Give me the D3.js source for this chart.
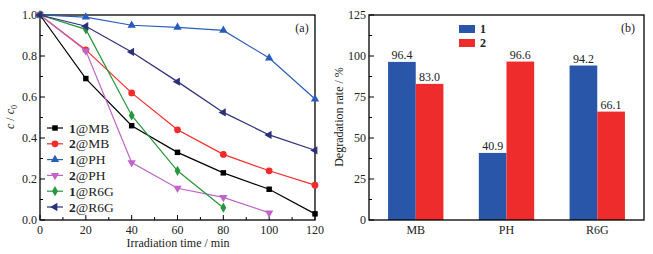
<!DOCTYPE html>
<meta charset="utf-8">
<script src="https://d3js.org/d3.v7.min.js"></script>
<style>
	body{margin:0;background:#fff;}
	text{font-family:'Liberation Serif','Times New Roman',serif;fill:#222;}
</style>
<div id="chart"></div>
<script>
	// panel (a) data
	var times = [0,20,40,60,80,100,120]
	var mb1 = [1.0,0.69,0.46,0.33,0.23,0.15,0.03]
	var mb2 = [1.0,0.83,0.62,0.44,0.32,0.24,0.17]
	var ph1 = [1.0,0.99,0.95,0.94,0.925,0.79,0.59]
	var ph2 = [1.0,0.825,0.28,0.155,0.11,0.035]
	var r6g1 = [1.0,0.93,0.51,0.24,0.06]
	var r6g2 = [1.0,0.945,0.82,0.675,0.525,0.415,0.34]
	var xTicks = [0,20,40,60,80,100,120]
	var yTicksA = [0,0.2,0.4,0.6,0.8,1.0]

	// panel (b) data
	var dyes = ["MB","PH","R6G"]
	var rate1 = [96.4,40.9,94.2]
	var rate2 = [83.0,96.6,66.1]
	var yTicksB = [0,25,50,75,100,125]

	var series = [
		{n:"1",dye:"MB",vals:mb1,color:"#000000",sym:d3.symbolSquare,rot:0,size:30},
		{n:"2",dye:"MB",vals:mb2,color:"#f52a2a",sym:d3.symbolCircle,rot:0,size:36},
		{n:"1",dye:"PH",vals:ph1,color:"#2a5cbd",sym:d3.symbolTriangle,rot:0,size:30},
		{n:"2",dye:"PH",vals:ph2,color:"#c064c8",sym:d3.symbolTriangle,rot:180,size:30},
		{n:"1",dye:"R6G",vals:r6g1,color:"#27963c",sym:d3.symbolDiamond,rot:0,size:30},
		{n:"2",dye:"R6G",vals:r6g2,color:"#2c3079",sym:d3.symbolTriangle,rot:-90,size:30}
	]

	var W = 653, H = 254
	var svg = d3.select("#chart").append("svg").attr("width",W).attr("height",H)

	// ---------- panel (a) ----------
	var x = d3.scaleLinear().domain([0,120]).range([40,315])
	var y = d3.scaleLinear().domain([0,1]).range([220,15])

	var ga = svg.append("g")
	// minor/major inside ticks
	d3.range(0,121,10).forEach(function(t){
		var len = t%20==0 ? 5 : 3
		ga.append("line").attr("x1",x(t)).attr("x2",x(t)).attr("y1",y(0)).attr("y2",y(0)-len)
			.attr("stroke","#000").attr("stroke-width",1)
	})
	d3.range(0,1.001,0.1).forEach(function(t){
		var len = Math.round(t*10)%2==0 ? 5 : 3
		ga.append("line").attr("x1",x(0)).attr("x2",x(0)+len).attr("y1",y(t)).attr("y2",y(t))
			.attr("stroke","#000").attr("stroke-width",1)
	})
	xTicks.forEach(function(t){
		ga.append("text").attr("x",x(t)).attr("y",y(0)+14).attr("text-anchor","middle")
			.style("font-size","12px").text(t)
	})
	yTicksA.forEach(function(t){
		ga.append("text").attr("x",x(0)-3).attr("y",y(t)+4).attr("text-anchor","end")
			.style("font-size","12px").text(t.toFixed(1))
	})
	ga.append("rect").attr("x",x(0)).attr("y",y(1)).attr("width",x(120)-x(0)).attr("height",y(0)-y(1))
		.attr("fill","none").attr("stroke","#000").attr("stroke-width",1.3)

	var line = d3.line().x(function(d,i){return x(times[i])}).y(function(d){return y(d)})
	series.forEach(function(s){
		ga.append("path").attr("d",line(s.vals)).attr("fill","none").attr("stroke",s.color).attr("stroke-width",1.2)
		s.vals.forEach(function(v,i){
			ga.append("path").attr("d",d3.symbol().type(s.sym).size(s.size)())
				.attr("transform","translate("+x(times[i])+","+y(v)+") rotate("+s.rot+")")
				.attr("fill",s.color)
		})
	})

	// legend (a)
	series.forEach(function(s,i){
		var ly = 128 + i*15.8
		ga.append("line").attr("x1",47).attr("x2",63).attr("y1",ly).attr("y2",ly).attr("stroke",s.color).attr("stroke-width",1.2)
		ga.append("path").attr("d",d3.symbol().type(s.sym).size(s.size)())
			.attr("transform","translate(55,"+ly+") rotate("+s.rot+")").attr("fill",s.color)
		var t = ga.append("text").attr("x",69).attr("y",ly+4.5).style("font-size","13.5px")
		t.append("tspan").style("font-weight","bold").text(s.n)
		t.append("tspan").text("@"+s.dye)
	})

	ga.append("text").attr("x",178).attr("y",247).attr("text-anchor","middle").style("font-size","12px")
		.text("Irradiation time / min")
	var yl = ga.append("text").attr("transform","translate(14,117) rotate(-90)").attr("text-anchor","middle")
		.style("font-size","12px")
	yl.append("tspan").style("font-style","italic").text("c")
	yl.append("tspan").text(" / ")
	yl.append("tspan").style("font-style","italic").text("c")
	yl.append("tspan").style("font-size","8px").attr("dy",3).text("0")
	ga.append("text").attr("x",302).attr("y",32).attr("text-anchor","middle").style("font-size","12px").text("(a)")

	// ---------- panel (b) ----------
	var x0 = d3.scaleBand().domain(dyes).range([369,644]).paddingInner(0.39).paddingOuter(0.21)
	var yb = d3.scaleLinear().domain([0,125]).range([220,15])
	var gb = svg.append("g")

	d3.range(0,125.1,12.5).forEach(function(t){
		var len = t%25==0 ? 5 : 3
		gb.append("line").attr("x1",369).attr("x2",369+len).attr("y1",yb(t)).attr("y2",yb(t))
			.attr("stroke","#000").attr("stroke-width",1)
	})
	yTicksB.forEach(function(t){
		gb.append("text").attr("x",366).attr("y",yb(t)+4).attr("text-anchor","end")
			.style("font-size","12px").text(t)
	})

	var bw = x0.bandwidth()/2
	dyes.forEach(function(d,i){
		var bx = x0(d)
		gb.append("rect").attr("x",bx).attr("y",yb(rate1[i])).attr("width",bw).attr("height",yb(0)-yb(rate1[i]))
			.attr("fill","#2a56aa")
		gb.append("rect").attr("x",bx+bw).attr("y",yb(rate2[i])).attr("width",bw).attr("height",yb(0)-yb(rate2[i]))
			.attr("fill","#ee2c2c")
		gb.append("text").attr("x",bx+bw/2).attr("y",yb(rate1[i])-3).attr("text-anchor","middle")
			.style("font-size","12px").text(rate1[i].toFixed(1))
		gb.append("text").attr("x",bx+bw*1.5).attr("y",yb(rate2[i])-3).attr("text-anchor","middle")
			.style("font-size","12px").text(rate2[i].toFixed(1))
		gb.append("text").attr("x",bx+bw).attr("y",yb(0)+14).attr("text-anchor","middle")
			.style("font-size","12px").text(d)
	})
	gb.append("rect").attr("x",369).attr("y",yb(125)).attr("width",644-369).attr("height",yb(0)-yb(125))
		.attr("fill","none").attr("stroke","#000").attr("stroke-width",1.3)

	// legend (b)
	var legB = [{n:"1",c:"#2a56aa"},{n:"2",c:"#ee2c2c"}]
	legB.forEach(function(l,i){
		var ly = 25 + i*14
		gb.append("rect").attr("x",459).attr("y",ly).attr("width",16).attr("height",8).attr("fill",l.c)
		gb.append("text").attr("x",480).attr("y",ly+8).style("font-size","12px").style("font-weight","bold").text(l.n)
	})
	gb.append("text").attr("x",628).attr("y",32).attr("text-anchor","middle").style("font-size","12px").text("(b)")
	gb.append("text").attr("transform","translate(343,117) rotate(-90)").attr("text-anchor","middle")
		.style("font-size","12px").text("Degradation rate / %")
</script>
